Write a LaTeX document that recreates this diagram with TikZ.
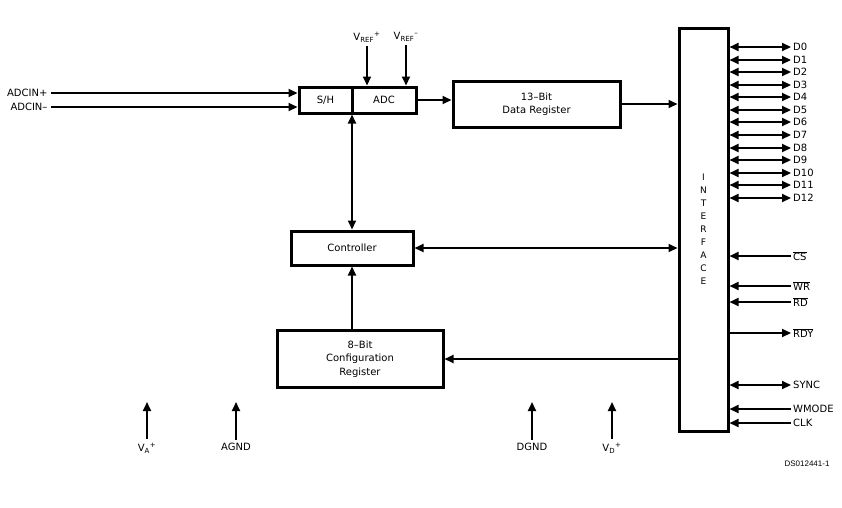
\documentclass[tikz,border=0pt]{standalone}
\usepackage{fontspec}
\setmainfont{DejaVu Sans}
\newfontfamily\dsfont{Liberation Sans}
\usepackage{amsmath}
\usepackage{tikz}
\usetikzlibrary{arrows.meta}
\newcommand{\pinx}[0] {791}
\newcommand{\ovl}[1] {$\overline{\mbox{#1}}$}

\tikzset{
  blk/.style={shape=rectangle,draw=black,line width=3pt,inner sep=0pt},
  wire/.style={line width=2pt},
  pin/.style={anchor=west,inner sep=2pt}
}

\begin{document}
\begin{tikzpicture}[x=1pt,y=-1pt,font=\fontsize{10}{13.5}\selectfont,>={Triangle[length=9pt,width=8pt]}]
        \useasboundingbox (0,0) rectangle (842,507);

        \node[blk,minimum width=53pt,minimum height=26pt] (sh) at (325.5,100)     {S/H};
        \node[blk,minimum width=64pt,minimum height=26pt] (adc) at (384,100)     {ADC};
        \node[blk,minimum width=167pt,minimum height=46pt,align=center] (reg) at (536.5,104)     {13--Bit\\Data Register};
        \node[blk,minimum width=49pt,minimum height=403pt] (ifc) at (703.5,229.5)     {};
        \node[align=center,font=\fontsize{9}{13}\selectfont] (word) at (703.5,229.5)     {I\\N\\T\\E\\R\\F\\A\\C\\E};
        \node[blk,minimum width=122pt,minimum height=34pt] (ctrl) at (352,248)     {Controller};
        \node[blk,minimum width=166pt,minimum height=57pt,align=center] (cfg) at (360,359)     {8--Bit\\Configuration\\Register};

        % inputs and references
        \node[anchor=east] (inp) at (51,93)     {ADCIN+};
        \node[anchor=east] (inm) at (51,107)     {ADCIN\textendash};
        \node (vrp) at (367,37)     {V\textsubscript{REF}\raisebox{1pt}{\textsuperscript{+}}};
        \node (vrm) at (406,37)     {V\textsubscript{REF}\raisebox{1pt}{\textsuperscript{\textendash}}};

        % supplies
        \node (va) at (147,448)     {V\textsubscript{A}\raisebox{1pt}{\textsuperscript{+}}};
        \node (ag) at (236,447)     {AGND};
        \node (dg) at (532,447)     {DGND};
        \node (vd) at (612,448)     {V\textsubscript{D}\raisebox{1pt}{\textsuperscript{+}}};
        \coordinate (vat) at (147,402);
        \coordinate (agt) at (236,402);
        \coordinate (dgt) at (532,402);
        \coordinate (vdt) at (612,402);

        % pins
        \node[pin] (d0) at (\pinx,47)     {D0};
        \node[pin] (d1) at (\pinx,60)     {D1};
        \node[pin] (d2) at (\pinx,72)     {D2};
        \node[pin] (d3) at (\pinx,85)     {D3};
        \node[pin] (d4) at (\pinx,97)     {D4};
        \node[pin] (d5) at (\pinx,110)     {D5};
        \node[pin] (d6) at (\pinx,122)     {D6};
        \node[pin] (d7) at (\pinx,135)     {D7};
        \node[pin] (d8) at (\pinx,148)     {D8};
        \node[pin] (d9) at (\pinx,160)     {D9};
        \node[pin] (d10) at (\pinx,173)     {D10};
        \node[pin] (d11) at (\pinx,185)     {D11};
        \node[pin] (d12) at (\pinx,198)     {D12};
        \node[pin] (cs) at (\pinx,256)     {\ovl{CS}};
        \node[pin] (wr) at (\pinx,286)     {\ovl{WR}};
        \node[pin] (rd) at (\pinx,302)     {\ovl{RD}};
        \node[pin] (rdy) at (\pinx,333)     {\ovl{RDY}};
        \node[pin] (sync) at (\pinx,385)     {SYNC};
        \node[pin] (wmode) at (\pinx,409)     {WMODE};
        \node[pin] (clk) at (\pinx,423)     {CLK};

        \node[font=\dsfont\fontsize{8}{8}\selectfont] (ds) at (807,464)     {DS012441-1};

        %edges
        \path[wire,->] (inp.east) edge (sh.west |- inp.east);
        \path[wire,->] (inm.east) edge (sh.west |- inm.east);
        \path[wire,->] (vrp.south) edge (adc.north -| vrp.south);
        \path[wire,->] (vrm.south) edge (adc.north -| vrm.south);
        \path[wire,->] (adc.east) edge (reg.west |- adc.east);
        \path[wire,->] (reg.east) edge (ifc.west |- reg.east);
        \path[wire,<->] (ctrl.north |- sh.south) edge (ctrl.north);
        \path[wire,<->] (ctrl.east) edge (ifc.west |- ctrl.east);
        \path[wire,->] (ctrl.south |- cfg.north) edge (ctrl.south);
        \path[wire,->] (ifc.west |- cfg.east) edge (cfg.east);

        \path[wire,->] (va.north) edge (vat);
        \path[wire,->] (ag.north) edge (agt);
        \path[wire,->] (dg.north) edge (dgt);
        \path[wire,->] (vd.north) edge (vdt);

        \path[wire,<->] (ifc.east |- d0) edge (d0.west);
        \path[wire,<->] (ifc.east |- d1) edge (d1.west);
        \path[wire,<->] (ifc.east |- d2) edge (d2.west);
        \path[wire,<->] (ifc.east |- d3) edge (d3.west);
        \path[wire,<->] (ifc.east |- d4) edge (d4.west);
        \path[wire,<->] (ifc.east |- d5) edge (d5.west);
        \path[wire,<->] (ifc.east |- d6) edge (d6.west);
        \path[wire,<->] (ifc.east |- d7) edge (d7.west);
        \path[wire,<->] (ifc.east |- d8) edge (d8.west);
        \path[wire,<->] (ifc.east |- d9) edge (d9.west);
        \path[wire,<->] (ifc.east |- d10) edge (d10.west);
        \path[wire,<->] (ifc.east |- d11) edge (d11.west);
        \path[wire,<->] (ifc.east |- d12) edge (d12.west);
        \path[wire,<-] (ifc.east |- cs) edge (cs.west);
        \path[wire,<-] (ifc.east |- wr) edge (wr.west);
        \path[wire,<-] (ifc.east |- rd) edge (rd.west);
        \path[wire,->] (ifc.east |- rdy) edge (rdy.west);
        \path[wire,<->] (ifc.east |- sync) edge (sync.west);
        \path[wire,<-] (ifc.east |- wmode) edge (wmode.west);
        \path[wire,<-] (ifc.east |- clk) edge (clk.west);

\end{tikzpicture}
\end{document}
